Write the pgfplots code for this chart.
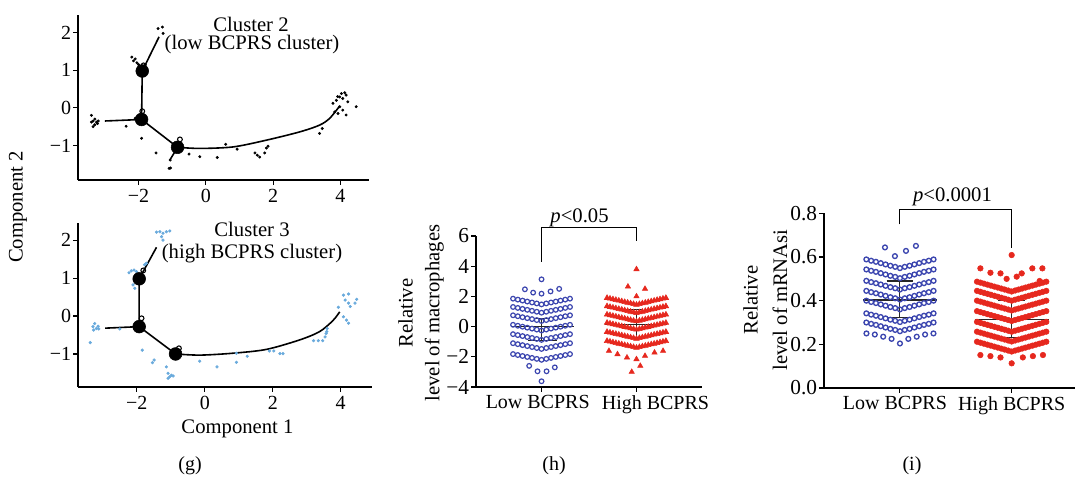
\documentclass[border=0pt]{standalone}
\usepackage{fontspec}
\setmainfont{Liberation Serif}
\usepackage{pgfplots}
\usepackage{pgfplotstable}
\pgfplotsset{compat=1.18}

\definecolor{lowblue}{RGB}{60,70,175}
\definecolor{highred}{RGB}{230,40,30}
\definecolor{cellblue}{RGB}{105,170,220}

\pgfplotsset{
  base/.style={scale only axis, anchor=south west, clip=false,
    axis lines=left, axis line style={-, line width=0.8pt, black},
    tick align=outside, major tick length=3.5pt,
    every tick/.style={black, line width=0.8pt},
    tick label style={font=\fontsize{15}{17}\selectfont},
    yticklabel style={inner sep=1.5pt},
    /pgf/number format/assume math mode=true},
  traj/.style={black, line width=1.2pt, no marks},
  bignode/.style={only marks, mark=*, mark size=4.8pt, black},
  smallo/.style={only marks, mark=o, mark size=1.8pt, black, line width=0.8pt},
  meanline/.style={black!85, line width=0.8pt, no marks},
}

% beeswarm rows: x offset, then one column per row
\pgfplotstableread{
x r1 r2 r3 r4 r5 r6 r7
-0.30 1.850 1.300 0.750 0.120 -0.500 -1.100 -1.820
-0.25 1.787 1.237 0.687 0.057 -0.563 -1.163 -1.883
-0.20 1.723 1.173 0.623 -0.007 -0.627 -1.227 -1.947
-0.15 1.660 1.110 0.560 -0.070 -0.690 -1.290 -2.010
-0.10 1.597 1.047 0.497 -0.133 -0.753 -1.353 -2.073
-0.05 1.533 0.983 0.433 -0.197 -0.817 -1.417 -2.137
0.00 1.470 0.920 0.370 -0.260 -0.880 -1.480 -2.200
0.05 1.533 0.983 0.433 -0.197 -0.817 -1.417 -2.137
0.10 1.597 1.047 0.497 -0.133 -0.753 -1.353 -2.073
0.15 1.660 1.110 0.560 -0.070 -0.690 -1.290 -2.010
0.20 1.723 1.173 0.623 -0.007 -0.627 -1.227 -1.947
0.25 1.787 1.237 0.687 0.057 -0.563 -1.163 -1.883
0.30 1.850 1.300 0.750 0.120 -0.500 -1.100 -1.820
}\lowH

\pgfplotstableread{
x r1 r2 r3 r4 r5 r6
0.690 1.900 1.350 0.800 0.250 -0.350 -0.950
0.721 1.855 1.305 0.755 0.205 -0.395 -0.995
0.752 1.810 1.260 0.710 0.160 -0.440 -1.040
0.783 1.765 1.215 0.665 0.115 -0.485 -1.085
0.814 1.720 1.170 0.620 0.070 -0.530 -1.130
0.845 1.675 1.125 0.575 0.025 -0.575 -1.175
0.876 1.630 1.080 0.530 -0.020 -0.620 -1.220
0.907 1.585 1.035 0.485 -0.065 -0.665 -1.265
0.938 1.540 0.990 0.440 -0.110 -0.710 -1.310
0.969 1.495 0.945 0.395 -0.155 -0.755 -1.355
1.000 1.450 0.900 0.350 -0.200 -0.800 -1.400
1.031 1.495 0.945 0.395 -0.155 -0.755 -1.355
1.062 1.540 0.990 0.440 -0.110 -0.710 -1.310
1.093 1.585 1.035 0.485 -0.065 -0.665 -1.265
1.124 1.630 1.080 0.530 -0.020 -0.620 -1.220
1.155 1.675 1.125 0.575 0.025 -0.575 -1.175
1.186 1.720 1.170 0.620 0.070 -0.530 -1.130
1.217 1.765 1.215 0.665 0.115 -0.485 -1.085
1.248 1.810 1.260 0.710 0.160 -0.440 -1.040
1.279 1.855 1.305 0.755 0.205 -0.395 -0.995
1.310 1.900 1.350 0.800 0.250 -0.350 -0.950
}\highH

\pgfplotstableread{
x r1 r2 r3 r4 r5 r6 r7
-0.301 .589 .543 .491 .445 .400 .342 .300
-0.258 .583 .537 .485 .439 .394 .336 .294
-0.215 .578 .532 .480 .434 .389 .331 .289
-0.172 .572 .526 .474 .428 .383 .325 .283
-0.129 .566 .520 .468 .422 .377 .319 .277
-0.086 .560 .514 .462 .416 .371 .313 .271
-0.043 .555 .509 .457 .411 .366 .308 .266
0.000 .549 .503 .451 .405 .360 .302 .260
0.043 .555 .509 .457 .411 .366 .308 .266
0.086 .560 .514 .462 .416 .371 .313 .271
0.129 .566 .520 .468 .422 .377 .319 .277
0.172 .572 .526 .474 .428 .383 .325 .283
0.215 .578 .532 .480 .434 .389 .331 .289
0.258 .583 .537 .485 .439 .394 .336 .294
0.301 .589 .543 .491 .445 .400 .342 .300
}\lowI

\pgfplotstableread{
x r1 r2 r3 r4 r5 r6 r7
0.690 .487 .445 .400 .352 .303 .258 .212
0.721 .4825 .4405 .3955 .3475 .2985 .2535 .2075
0.752 .478 .436 .391 .343 .294 .249 .203
0.783 .4735 .4315 .3865 .3385 .2895 .2445 .1985
0.814 .469 .427 .382 .334 .285 .240 .194
0.845 .4645 .4225 .3775 .3295 .2805 .2355 .1895
0.876 .460 .418 .373 .325 .276 .231 .185
0.907 .4555 .4135 .3685 .3205 .2715 .2265 .1805
0.938 .451 .409 .364 .316 .267 .222 .176
0.969 .4465 .4045 .3595 .3115 .2625 .2175 .1715
1.000 .442 .400 .355 .307 .258 .213 .167
1.031 .4465 .4045 .3595 .3115 .2625 .2175 .1715
1.062 .451 .409 .364 .316 .267 .222 .176
1.093 .4555 .4135 .3685 .3205 .2715 .2265 .1805
1.124 .460 .418 .373 .325 .276 .231 .185
1.155 .4645 .4225 .3775 .3295 .2805 .2355 .1895
1.186 .469 .427 .382 .334 .285 .240 .194
1.217 .4735 .4315 .3865 .3385 .2895 .2445 .1985
1.248 .478 .436 .391 .343 .294 .249 .203
1.279 .4825 .4405 .3955 .3475 .2985 .2535 .2075
1.310 .487 .445 .400 .352 .303 .258 .212
}\highI

\begin{document}
\begin{tikzpicture}
\path[use as bounding box] (0,0) rectangle (807pt,357pt);

% ---------- (g) top: cluster 2 ----------
\begin{axis}[base, at={(58.5pt,222pt)}, width=218.25pt, height=123.75pt,
    xmin=-3.8, xmax=4.85, ymin=-1.92, ymax=2.47,
    xtick={-2,0,2,4}, xticklabels={−2,0,2,4},
    ytick={-1,0,1,2}, yticklabels={−1,0,1,2}]
  \addplot[only marks, mark=*, mark size=0.9pt, black] coordinates {
    (-3.4,-0.2) (-3.35,-0.35) (-3.3,-0.3) (-3.25,-0.38) (-3.3,-0.45) (-3.2,-0.35)
    (-3.35,-0.5) (-3.22,-0.42) (-3.4,-0.38) (-2.37,-0.49) (-1.91,-0.81) (-1.48,-1.2)
    (-1.09,-1.61) (-1.05,-1.6) (-1.06,-1.39) (-0.5,-1.23) (-0.18,-1.3) (0.34,-1.32)
    (0.59,-0.97) (0.93,-1.1) (1.46,-1.2) (1.53,-1.26) (1.6,-1.31) (1.75,-1.2)
    (1.8,-1.07) (1.85,-1.02) (3.38,-0.68) (3.46,-0.55) (3.78,0.12) (3.88,0.2)
    (3.98,0.29) (4.03,0.38) (4.07,0.25) (4.17,0.34) (4.22,0.16) (3.83,-0.11)
    (3.93,-0.15) (3.98,0.03) (4.07,-0.06) (4.17,-0.19) (4.47,0.03) (4.13,0.4)
    (3.92,0.3) (-1.42,2.11) (-1.29,2.15) (-1.27,1.98) (-2.2,1.35) (-2.15,1.25)
    (-2.1,1.3) (-2.05,1.2) (-2.0,1.15) (-1.95,1.1) (-1.8,1.15) (-2.05,-0.25) (-2.1,-0.28)};
  \addplot[traj] coordinates {(-3.0,-0.35) (-1.91,-0.31)};
  \addplot[traj] coordinates {(-1.91,-0.31) (-1.89,0.98) (-1.39,1.89)};
  \addplot[traj] coordinates {(-1.91,-0.31) (-0.84,-1.05) (-1.07,-1.39)};
  \addplot[traj, smooth, tension=0.5] coordinates {(-0.84,-1.05) (-0.18,-1.08) (0.81,-1.04)
    (1.80,-0.86) (2.79,-0.64) (3.38,-0.46) (3.68,-0.28) (3.98,0.05)};
  \addplot[smallo] coordinates {(-1.89,-0.09) (-0.77,-0.84) (-1.85,1.13)};
  \addplot[bignode] coordinates {(-1.91,-0.31) (-1.89,0.98) (-0.84,-1.05)};
\end{axis}

% ---------- (g) bottom: cluster 3 ----------
\begin{axis}[base, at={(58.5pt,66.75pt)}, width=220.5pt, height=123pt,
    xmin=-3.73, xmax=4.92, ymin=-1.87, ymax=2.45,
    xtick={-2,0,2,4}, xticklabels={−2,0,2,4},
    ytick={-1,0,1,2}, yticklabels={−1,0,1,2}]
  \addplot[only marks, mark=*, mark size=1pt, cellblue] coordinates {
    (-3.37,-0.7) (-3.29,-0.28) (-3.24,-0.2) (-3.19,-0.33) (-3.14,-0.27) (-3.27,-0.37)
    (-3.12,-0.34) (-2.5,-0.34) (-1.84,-0.9) (-1.54,-1.23) (-1.49,-1.16)
    (-1.13,-1.34) (-1.08,-1.51) (-1.03,-1.6) (-0.98,-1.56) (-0.93,-1.58) (-1.08,-1.64)
    (-0.15,-1.19) (0.36,-1.34) (0.93,-1.22) (0.93,-0.98) (1.25,-1.06)
    (1.9,-0.92) (2.03,-0.92) (2.21,-0.99) (2.3,-0.99)
    (3.2,-0.65) (3.34,-0.65) (3.47,-0.65) (3.54,-0.55) (3.59,-0.41) (3.6,-0.33) (3.57,-0.46)
    (4.08,0.55) (4.23,0.58) (4.13,0.42) (4.23,0.34) (4.28,0.25) (4.42,0.34) (4.47,0.44)
    (3.93,0.23) (4.17,-0.11) (4.23,-0.19) (4.08,-0.02)
    (-1.42,2.21) (-1.32,2.22) (-1.23,2.18) (-1.13,2.22) (-1.03,2.24) (-1.27,2.09) (-1.23,2.0)
    (-2.23,1.14) (-2.16,1.19) (-2.08,1.21) (-2.01,1.17) (-2.11,0.82) (-2.06,0.73)
    (-1.77,1.35) (-1.72,1.39)};
  \addplot[traj] coordinates {(-2.93,-0.32) (-1.93,-0.28)};
  \addplot[traj] coordinates {(-1.93,-0.28) (-1.93,0.98) (-1.42,1.81)};
  \addplot[traj] coordinates {(-1.93,-0.28) (-0.86,-1.0)};
  \addplot[traj, smooth, tension=0.5] coordinates {(-0.86,-1.0) (-0.14,-1.03) (0.83,-0.98)
    (1.81,-0.88) (2.79,-0.63) (3.38,-0.41) (3.77,-0.12) (3.97,0.11)};
  \addplot[smallo] coordinates {(-1.86,-0.06) (-0.76,-0.85) (-1.81,1.2)};
  \addplot[bignode] coordinates {(-1.93,-0.28) (-1.93,0.98) (-0.86,-1.0)};
\end{axis}

% ---------- (h) macrophages ----------
\begin{axis}[base, at={(357pt,66.75pt)}, width=169.5pt, height=113.25pt,
    xmin=-0.69, xmax=1.69, ymin=-4, ymax=6,
    xtick={0,1}, xticklabels={},
    ytick={-4,-2,0,2,4,6}, yticklabels={−4,−2,0,2,4,6},
    yticklabel style={font=\fontsize{16}{18}\selectfont}]
  \pgfplotsinvokeforeach{1,...,7}{
    \addplot[only marks, mark=o, mark size=1.75pt, line width=0.9pt, lowblue]
      table[x=x, y=r#1]{\lowH};}
  \addplot[only marks, mark=o, mark size=1.75pt, line width=0.9pt, lowblue] coordinates {
    (0,3.13) (-0.175,2.47) (-0.088,2.25) (0,2.18) (0.095,2.33) (0.186,2.5)
    (-0.13,-2.6) (-0.042,-2.96) (0.053,-2.96) (0.14,-2.7) (0,-3.62)};
  \pgfplotsinvokeforeach{1,...,6}{
    \addplot[only marks, mark=triangle*, mark size=2.4pt, highred]
      table[x=x, y=r#1]{\highH};}
  \addplot[only marks, mark=triangle*, mark size=2.3pt, highred] coordinates {
    (1,3.8) (0.91,2.65) (1,2.0) (1.09,2.5) (0.71,-1.61) (0.8,-1.83) (0.9,-2.05)
    (1,-2.16) (1.09,-1.94) (1.19,-1.72) (1.28,-1.61) (1.04,-2.6) (0.95,-3.0)};
  \addplot[meanline] coordinates {(-0.32,0) (0.34,0)};
  \addplot[meanline] coordinates {(0,-0.95) (0,0.55)};
  \addplot[meanline] coordinates {(-0.08,0.55) (0.09,0.55)};
  \addplot[meanline] coordinates {(-0.14,-0.95) (0.16,-0.95)};
  \addplot[meanline] coordinates {(0.67,0.17) (1.32,0.17)};
  \addplot[meanline] coordinates {(1,-0.7) (1,1.15)};
  \addplot[meanline] coordinates {(0.88,1.15) (1.07,1.15)};
  \addplot[meanline] coordinates {(0.88,-0.7) (1.12,-0.7)};
  \addplot[black, line width=0.8pt, no marks] coordinates {(0,4.3) (0,6.57) (1,6.57) (1,5.65)};
  \node[anchor=base, inner sep=0pt, font=\fontsize{15.5}{17}\selectfont]
    at (axis cs:0.40,6.57) [yshift=3.8pt] {\textit{p}<0.05};
  \node[anchor=north, inner sep=0pt, font=\fontsize{15}{17}\selectfont]
    at (axis cs:-0.04,-4) [yshift=-6pt] {Low BCPRS};
  \node[anchor=north, inner sep=0pt, font=\fontsize{15}{17}\selectfont]
    at (axis cs:1.2,-4) [yshift=-6pt] {High BCPRS};
\end{axis}

% ---------- (i) mRNAsi ----------
\begin{axis}[base, at={(618pt,66pt)}, width=188.25pt, height=131pt,
    xmin=-0.68, xmax=1.567, ymin=0, ymax=0.8,
    xtick={0,1}, xticklabels={},
    ytick={0,0.2,0.4,0.6,0.8}, yticklabels={0.0,0.2,0.4,0.6,0.8},
    yticklabel style={font=\fontsize{16}{18}\selectfont}]
  \pgfplotsinvokeforeach{1,...,7}{
    \addplot[only marks, mark=o, mark size=1.8pt, line width=1pt, lowblue]
      table[x=x, y=r#1]{\lowI};}
  \addplot[only marks, mark=o, mark size=1.8pt, line width=1pt, lowblue] coordinates {
    (-0.30,0.25) (-0.225,0.245) (-0.15,0.235) (-0.075,0.225) (0,0.204) (0.075,0.225)
    (0.15,0.235) (0.225,0.245) (0.30,0.25)
    (-0.134,0.644) (-0.045,0.604) (0.054,0.628) (0.143,0.651)};
  \pgfplotsinvokeforeach{1,...,7}{
    \addplot[only marks, mark=*, mark size=2.1pt, highred, draw=highred]
      table[x=x, y=r#1]{\highI};}
  \addplot[only marks, mark=*, mark size=2.1pt, highred, draw=highred] coordinates {
    (1,0.609) (0.72,0.548) (0.81,0.528) (0.9,0.525) (0.955,0.5) (1.045,0.51) (1.09,0.525)
    (1.185,0.548) (1.275,0.548) (1.25,0.49) (0.72,0.151) (0.81,0.146) (0.9,0.14)
    (1,0.113) (1.1,0.14) (1.19,0.146) (1.28,0.151)};
  \addplot[meanline] coordinates {(-0.33,0.403) (0.33,0.403)};
  \addplot[meanline] coordinates {(0,0.325) (0,0.49)};
  \addplot[meanline] coordinates {(-0.12,0.49) (0.12,0.49)};
  \addplot[meanline] coordinates {(-0.12,0.325) (0.12,0.325)};
  \addplot[meanline] coordinates {(0.67,0.314) (1.33,0.314)};
  \addplot[meanline] coordinates {(1,0.23) (1,0.40)};
  \addplot[meanline] coordinates {(0.88,0.40) (1.12,0.40)};
  \addplot[meanline] coordinates {(0.88,0.23) (1.12,0.23)};
  \addplot[black, line width=0.8pt, no marks] coordinates {(0,0.749) (0,0.818) (1,0.818) (1,0.639)};
  \node[anchor=base, inner sep=0pt, font=\fontsize{15.5}{17}\selectfont]
    at (axis cs:0.47,0.818) [yshift=6pt] {\textit{p}<0.0001};
  \node[anchor=north, inner sep=0pt, font=\fontsize{15}{17}\selectfont]
    at (axis cs:-0.045,0) [yshift=-6pt] {Low BCPRS};
  \node[anchor=north, inner sep=0pt, font=\fontsize{15}{17}\selectfont]
    at (axis cs:1,0) [yshift=-6pt] {High BCPRS};
\end{axis}

% ---------- free text ----------
\begin{scope}[every node/.style={font=\fontsize{15.5}{18}\selectfont, inner sep=0pt}]
  \node at (188.25pt,339pt) {Cluster 2};
  \node at (189pt,323.25pt) {(low BCPRS cluster)};
  \node at (189pt,185.25pt) {Cluster 3};
  \node at (189pt,166.5pt) {(high BCPRS cluster)};
  \node[rotate=90] at (13.5pt,201.75pt) {Component 2};
  \node at (178.1pt,35.25pt) {Component 1};
  \node[rotate=90, align=center, font=\fontsize{15.5}{20}\selectfont] at (315.75pt,122.25pt)
    {Relative\\level of macrophages};
  \node[rotate=90, align=center, font=\fontsize{15.5}{22}\selectfont] at (574pt,132pt)
    {Relative\\level of mRNAsi};
\end{scope}
\begin{scope}[every node/.style={font=\fontsize{15}{17}\selectfont, inner sep=0pt}]
  \node at (142.5pt,7.5pt) {(g)};
  \node at (415.5pt,7.5pt) {(h)};
  \node at (684pt,7.5pt) {(i)};
\end{scope}
\end{tikzpicture}
\end{document}
